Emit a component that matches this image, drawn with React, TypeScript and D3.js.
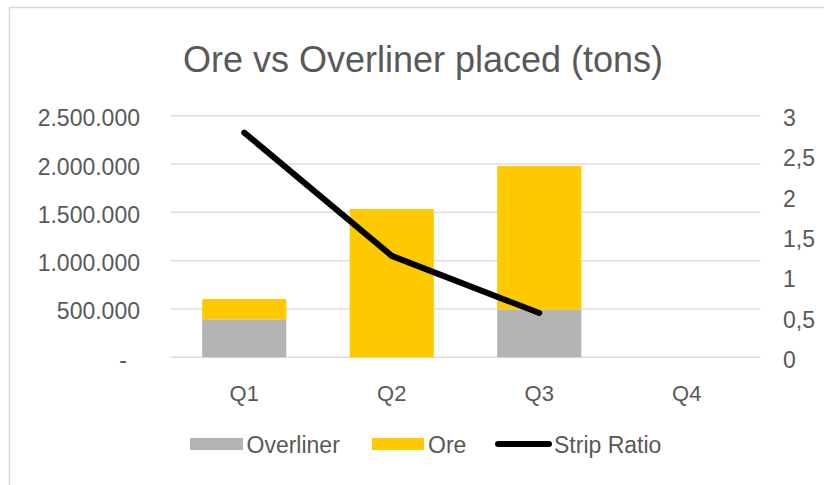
import React from "react";
import * as d3 from "d3";

const categories = ["Q1", "Q2", "Q3", "Q4"];
const overliner = [393000, 0, 495000, 0];
const ore = [210000, 1534000, 1484000, 0];
const stripRatio = [2.79, 1.26, 0.55];
const leftTicks = [0, 500000, 1000000, 1500000, 2000000, 2500000];
const rightTicks = [0, 0.5, 1, 1.5, 2, 2.5, 3];
const seriesNames = ["Overliner", "Ore", "Strip Ratio"];

const W = 824;
const H = 485;
const FONT = "'Liberation Sans', Arial, Helvetica, sans-serif";
const TEXT = "#595959";
const GRAY = "#b4b4b4";
const YELLOW = "#ffc900";
const GRID = "#dedede";

const locale = d3.formatLocale({ decimal: ",", thousands: ".", grouping: [3], currency: ["", ""] });
const fmtLeft = locale.format(",.0f");
const fmtRight = (v: number) => locale.format(",")(v);

export default function App() {
  const left = 170.5, right = 760.5, top = 115.7, bottom = 357.3;
  const x = d3.scaleBand<string>().domain(categories).range([left, right]).padding(0);
  const yL = d3.scaleLinear().domain([0, 2500000]).range([bottom, top]);
  const yR = d3.scaleLinear().domain([0, 3]).range([bottom, top]);
  const barW = x.bandwidth() * 0.57;

  const stackData = categories.map((c, i) => ({ cat: c, overliner: overliner[i], ore: ore[i] }));
  const stacked = d3.stack<any>().keys(["overliner", "ore"])(stackData);
  const colors: Record<string, string> = { overliner: GRAY, ore: YELLOW };

  const line = d3
    .line<number>()
    .x((_, i) => (x(categories[i]) as number) + x.bandwidth() / 2)
    .y((d) => yR(d));

  return (
    <svg width={W} height={H} style={{ position: "absolute", left: 0, top: 0, background: "#fff" }} fontFamily={FONT}>
      <rect x={0} y={0} width={W} height={H} fill="#fff" />
      <rect x={9.5} y={7.5} width={W + 20} height={H + 20} fill="#fff" stroke="#d9d9d9" strokeWidth={1.5} />
      <text x={423} y={72} textAnchor="middle" fontSize={36} fill={TEXT}>
        Ore vs Overliner placed (tons)
      </text>
      {leftTicks.map((t) => (
        <line key={"g" + t} x1={left} x2={right} y1={yL(t)} y2={yL(t)} stroke={GRID} strokeWidth={1.5} />
      ))}
      {leftTicks.map((t) => (
        <text
          key={"l" + t}
          x={t === 0 ? 127 : 140}
          y={yL(t) + 2.5}
          dominantBaseline="central"
          textAnchor="end"
          fontSize={23}
          fill={TEXT}
        >
          {t === 0 ? "-" : fmtLeft(t)}
        </text>
      ))}
      {rightTicks.map((t) => (
        <text key={"r" + t} x={783} y={yR(t) + 2.5} dominantBaseline="central" textAnchor="start" fontSize={23} fill={TEXT}>
          {fmtRight(t)}
        </text>
      ))}
      {stacked.map((s) => (
        <g key={s.key} fill={colors[s.key]}>
          {s.map((d, i) =>
            d[1] - d[0] > 0 ? (
              <rect
                key={i}
                x={(x(categories[i]) as number) + (x.bandwidth() - barW) / 2}
                y={yL(d[1])}
                width={barW}
                height={yL(d[0]) - yL(d[1])}
              />
            ) : null
          )}
        </g>
      ))}
      <path d={line(stripRatio) || ""} fill="none" stroke="#000" strokeWidth={6} strokeLinecap="round" strokeLinejoin="round" />
      {categories.map((c) => (
        <text key={c} x={(x(c) as number) + x.bandwidth() / 2} y={393} dominantBaseline="central" textAnchor="middle" fontSize={22} fill={TEXT}>
          {c}
        </text>
      ))}
      <g fontSize={23} fill={TEXT}>
        <rect x={190} y={438} width={53} height={12} fill={GRAY} />
        <text x={246.5} y={445} dominantBaseline="central">{seriesNames[0]}</text>
        <rect x={372} y={438} width={52} height={12} fill={YELLOW} />
        <text x={428} y={445} dominantBaseline="central">{seriesNames[1]}</text>
        <line x1={498} x2={549} y1={444} y2={444} stroke="#000" strokeWidth={6} strokeLinecap="round" />
        <text x={554} y={445} dominantBaseline="central">{seriesNames[2]}</text>
      </g>
    </svg>
  );
}
